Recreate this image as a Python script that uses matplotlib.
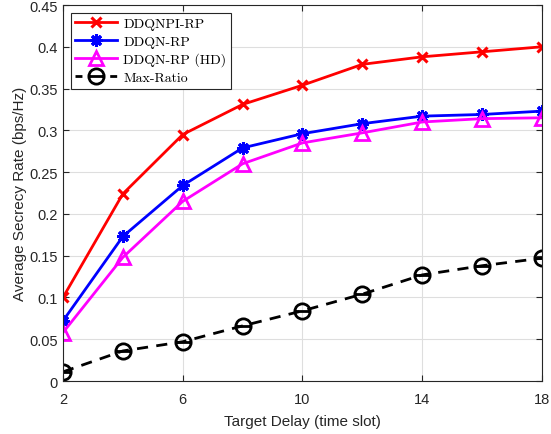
import numpy as np
import matplotlib.pyplot as plt
from matplotlib.path import Path

delay = [2, 4, 6, 8, 10, 12, 14, 16, 18]
ddqnpi_rp = [0.100, 0.224, 0.295, 0.331, 0.354, 0.379, 0.388, 0.394, 0.400]
ddqn_rp = [0.072, 0.173, 0.234, 0.279, 0.296, 0.308, 0.317, 0.319, 0.323]
ddqn_rp_hd = [0.058, 0.148, 0.215, 0.260, 0.285, 0.297, 0.310, 0.314, 0.315]
max_ratio = [0.011, 0.036, 0.047, 0.066, 0.084, 0.104, 0.127, 0.138, 0.147]

plt.rcParams['font.family'] = ['Liberation Sans', 'DejaVu Sans']
plt.rcParams['axes.unicode_minus'] = False

# circle with a bar across it, like the MATLAB marker in the original
circ = Path.unit_circle()
bar = Path([(-1, 0), (1, 0)], [Path.MOVETO, Path.LINETO])
ominus = Path.make_compound_path(circ, bar)

fig = plt.figure(figsize=(5.51, 4.35), dpi=100)
ax = fig.add_axes([0.1143, 0.1218, 0.8694, 0.8644])

ax.plot(delay, ddqnpi_rp, color='red', lw=2, marker='x', ms=7, mew=2.2, label='DDQNPI-RP')
ax.plot(delay, ddqn_rp, color='blue', lw=2, marker=(8, 2, 0), ms=9, mew=2.2, label='DDQN-RP')
ax.plot(delay, ddqn_rp_hd, color='magenta', lw=2, marker='^', ms=10, mew=2, mfc='none', label='DDQN-RP (HD)')
ax.plot(delay, max_ratio, color='black', lw=2, ls=(0, (4, 3)), marker=ominus, ms=11, mew=2, mfc='none',
        label='Max-Ratio')

ax.set_xlim(2, 18)
ax.set_ylim(0, 0.45)
ax.set_xticks([2, 6, 10, 14, 18])
ax.set_yticks(np.arange(0, 0.451, 0.05))
ax.set_yticklabels(['0', '0.05', '0.1', '0.15', '0.2', '0.25', '0.3', '0.35', '0.4', '0.45'])
ax.grid(True, color='#dedede', lw=0.8)
ax.set_axisbelow(True)
ax.tick_params(direction='in', top=True, right=True, labelsize=10.5, colors='#262626', length=4)
ax.tick_params(axis='x', pad=8)
for s in ax.spines.values():
    s.set_color('#262626')
    s.set_linewidth(0.8)

ax.set_xlabel('Target Delay (time slot)', fontsize=11, color='#262626', labelpad=6)
ax.set_ylabel('Average Secrecy Rate (bps/Hz)', fontsize=11, color='#262626', labelpad=2)

leg = ax.legend(loc='upper left', prop={'family': 'cmr10', 'size': 10}, fancybox=False,
                edgecolor='#262626', framealpha=1, handlelength=3.0, borderpad=0.35,
                labelspacing=0.35, handletextpad=0.45, borderaxespad=0.55)
leg.get_frame().set_linewidth(0.8)
# short dash on each side of the circle in the legend sample
leg.legend_handles[3].set_linestyle((0, (2.5, 10)))

fig.savefig('out.png', dpi=100)
